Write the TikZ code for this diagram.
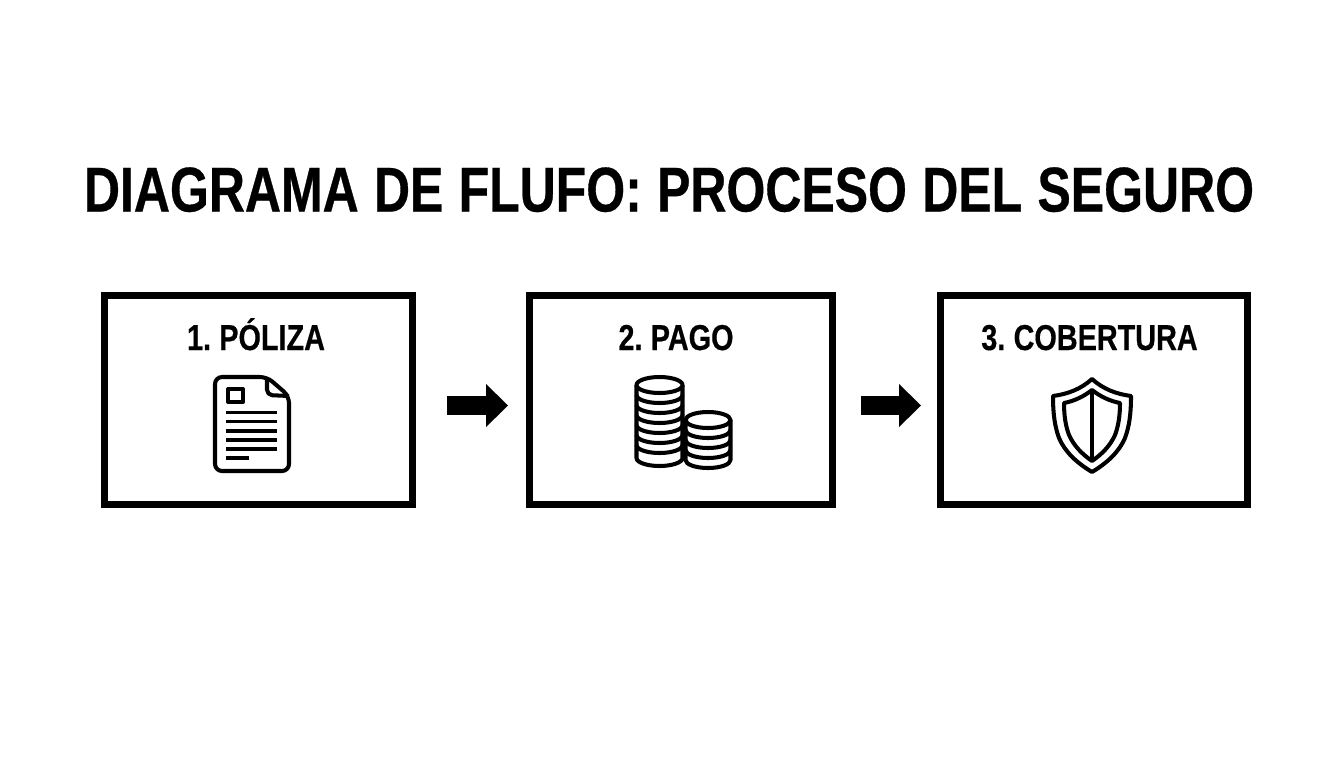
\documentclass[tikz,border=0pt]{standalone}
\usepackage{fontspec}
\setmainfont{Liberation Sans}
\newfontfamily\titlefont[FakeStretch=0.79,WordSpace=1.1,BoldFeatures={FakeBold=0.5}]{Liberation Sans}
\newfontfamily\labelfont[FakeStretch=0.80,WordSpace=0.7,BoldFeatures={FakeBold=0.4}]{Liberation Sans}
\usetikzlibrary{arrows.meta}
\tikzset{
	stepbox/.style={draw,line width=4pt,minimum height=4.18cm,inner sep=0pt},
	steplabel/.style={font=\labelfont\bfseries\fontsize{20.5}{24}\selectfont,inner sep=0pt,anchor=base},
	flowarrow/.style={line width=10.9pt,-{Triangle[length=12.5pt,width=24.5pt,line width=0pt]}},
	icon/.style={line width=2.3pt,line join=round},
	iconline/.style={line width=2pt}
}
\begin{document}
\begin{tikzpicture}[x=0.02cm,y=-0.02cm]
	\useasboundingbox (0,0) rectangle (1344,768);
	\node [font=\titlefont\bfseries\fontsize{36}{44}\selectfont,inner sep=0pt,anchor=base] (title) at (669,211.5) {DIAGRAMA DE FLUFO: PROCESO DEL SEGURO};

	\node [stepbox,minimum width=308*0.02cm] (poliza) at (258.5,400) {};
	\node [stepbox,minimum width=303*0.02cm] (pago) at (681,400) {};
	\node [stepbox,minimum width=307*0.02cm] (cobertura) at (1094,400) {};

	\node [steplabel] (poliza label) at (256,350) {1. PÓLIZA};
	\node [steplabel] (pago label) at (676,350) {2. PAGO};
	\node [steplabel] (cobertura label) at (1089.5,350) {3. COBERTURA};

	\draw [flowarrow,shorten <=31*0.02cm,shorten >=18*0.02cm] ([yshift=-5.5*0.02cm]poliza.east) -- ([yshift=-5.5*0.02cm]pago.west);
	\draw [flowarrow,shorten <=25*0.02cm,shorten >=16*0.02cm] ([yshift=-5.5*0.02cm]pago.east) -- ([yshift=-5.5*0.02cm]cobertura.west);

	% document
	\draw [icon,rounded corners=4] (267,377) -- (215,377) -- (215,471) -- (289,471) -- (289,396) -- cycle;
	\draw [icon,rounded corners=3] (267,377) -- (267,395) -- (289,396);
	\draw [icon] (228,389) rectangle (243,402);
	\foreach \y in {412.5,421.7,431,440,449} {
		\draw [iconline] (226,\y) -- (277,\y);
	}
	\draw [iconline] (226,458) -- (249,458);

	% coins
	\draw [icon,fill=white] (636.5,385) -- (636.5,458) arc [x radius=23,y radius=8,start angle=180,end angle=0] -- (682.5,385);
	\draw [icon,fill=white] (659.5,385) ellipse [x radius=23,y radius=8];
	\foreach \y in {395,405,415,425,435,445} {
		\draw [icon] (636.5,\y) arc [x radius=23,y radius=8,start angle=180,end angle=0];
	}
	\draw [icon,fill=white] (685.5,420) -- (685.5,460) arc [x radius=22.5,y radius=8,start angle=180,end angle=0] -- (730.5,420);
	\draw [icon,fill=white] (708,420) ellipse [x radius=22.5,y radius=8];
	\foreach \y in {430,440,450} {
		\draw [icon] (685.5,\y) arc [x radius=22.5,y radius=8,start angle=180,end angle=0];
	}

	% shield
	\draw [icon] (1092,379) .. controls (1103,389) and (1116,394) .. (1131,396) .. controls (1131,415) and (1129,427) .. (1125,438) .. controls (1119,452) and (1107,463) .. (1092,472) .. controls (1077,463) and (1065,452) .. (1059,438) .. controls (1055,427) and (1053,415) .. (1053,396) .. controls (1068,394) and (1081,389) .. (1092,379) -- cycle;
	\draw [icon] (1092,390) .. controls (1101,397) and (1110,401) .. (1120,403) .. controls (1120,417) and (1118,427) .. (1115,435) .. controls (1110,446) and (1102,454) .. (1092,461) .. controls (1082,454) and (1074,446) .. (1069,435) .. controls (1066,427) and (1064,417) .. (1064,403) .. controls (1074,401) and (1083,397) .. (1092,390) -- cycle;
	\draw [icon] (1092,390) -- (1092,461);
\end{tikzpicture}
\end{document}
